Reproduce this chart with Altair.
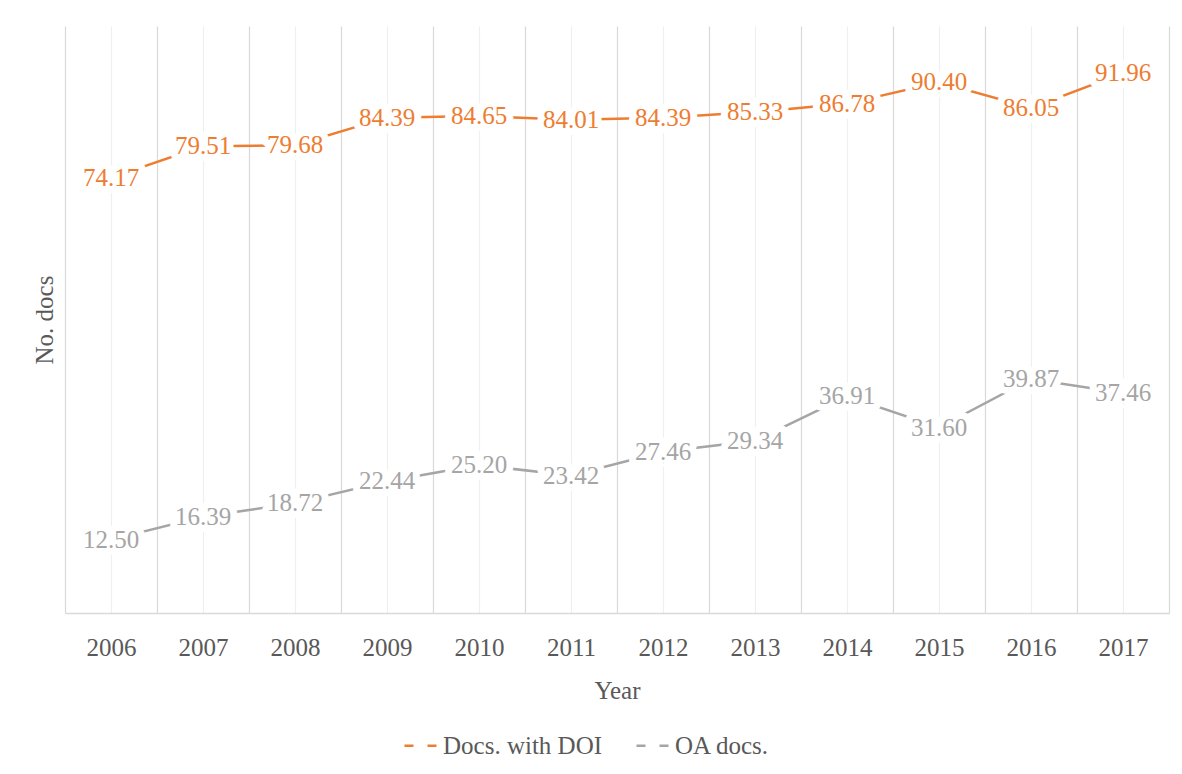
import altair as alt
import pandas as pd

YEARS = [2006, 2007, 2008, 2009, 2010, 2011, 2012, 2013, 2014, 2015, 2016, 2017]
DOI = [74.17, 79.51, 79.68, 84.39, 84.65, 84.01, 84.39, 85.33, 86.78, 90.40, 86.05, 91.96]
OA = [12.50, 16.39, 18.72, 22.44, 25.20, 23.42, 27.46, 29.34, 36.91, 31.60, 39.87, 37.46]
SERIES = ["Docs. with DOI", "OA docs."]
COLORS = ["#ED7D31", "#A5A5A5"]

rows = []
for y, v in zip(YEARS, DOI):
    rows.append({"year": y, "value": v, "series": SERIES[0]})
for y, v in zip(YEARS, OA):
    rows.append({"year": y, "value": v, "series": SERIES[1]})
df = pd.DataFrame(rows)

FONT = "Liberation Serif"
TXT = "#595959"
FS = 25

xscale = alt.Scale(domain=[YEARS[0] - 0.5, YEARS[-1] + 0.5], nice=False, zero=False)
yscale = alt.Scale(domain=[0, 100], nice=False)
cscale = alt.Scale(domain=SERIES, range=COLORS)

half_years = [y - 0.5 for y in YEARS] + [YEARS[-1] + 0.5]

y_axis = alt.Axis(labels=False, ticks=False, domain=False, grid=False,
                  title="No. docs", titleFont=FONT, titleFontSize=FS,
                  titleFontWeight="normal", titleColor=TXT, titlePadding=8)

base = alt.Chart(df)

line = base.mark_line(strokeWidth=2.5).encode(
    x=alt.X("year:Q", scale=xscale,
            axis=alt.Axis(values=YEARS, format="d", ticks=False, grid=True,
                          gridColor="#efefef", gridWidth=1.2, zindex=0,
                          domainColor="#d9d9d9", domainWidth=1.5,
                          labelFont=FONT, labelFontSize=FS, labelColor=TXT,
                          labelPadding=22, title="Year", titleFont=FONT,
                          titleFontSize=FS, titleFontWeight="normal",
                          titleColor=TXT, titlePadding=18)),
    y=alt.Y("value:Q", scale=yscale, axis=y_axis),
    color=alt.Color("series:N", scale=cscale,
                    legend=alt.Legend(title=None, orient="none",
                                      legendX=338, legendY=702,
                                      direction="horizontal",
                                      symbolType="stroke", symbolDash=[9, 14],
                                      symbolStrokeWidth=2.5, symbolSize=1024,
                                      labelFont=FONT, labelFontSize=FS,
                                      labelColor=TXT, labelOffset=5,
                                      columnPadding=28)),
    detail="series:N",
)

halo = base.mark_text(fontSize=FS, font=FONT, align="center", baseline="middle",
                      color="white", stroke="white", strokeWidth=14,
                      strokeJoin="round").encode(
    x=alt.X("year:Q", scale=xscale,
            axis=alt.Axis(orient="top", values=half_years, labels=False,
                          ticks=False, domain=False, grid=True, zindex=0,
                          gridColor="#d9d9d9", gridWidth=1.2, title=None)),
    y=alt.Y("value:Q", scale=yscale, axis=y_axis),
    text=alt.Text("value:Q", format=".2f"),
)

labels = base.mark_text(fontSize=FS, font=FONT, align="center",
                        baseline="middle").encode(
    x=alt.X("year:Q", scale=xscale, axis=None),
    y=alt.Y("value:Q", scale=yscale, axis=y_axis),
    text=alt.Text("value:Q", format=".2f"),
    color=alt.Color("series:N", scale=cscale, legend=None),
)

chart = alt.layer(line, halo, labels).resolve_axis(x="independent").properties(
    width=1104, height=587,
    autosize=alt.AutoSizeParams(type="none"),
    padding={"left": 57, "top": 18, "right": 5, "bottom": 161},
).configure_view(stroke=None)

chart.save("out.html", embed_options={"renderer": "svg", "actions": False})
